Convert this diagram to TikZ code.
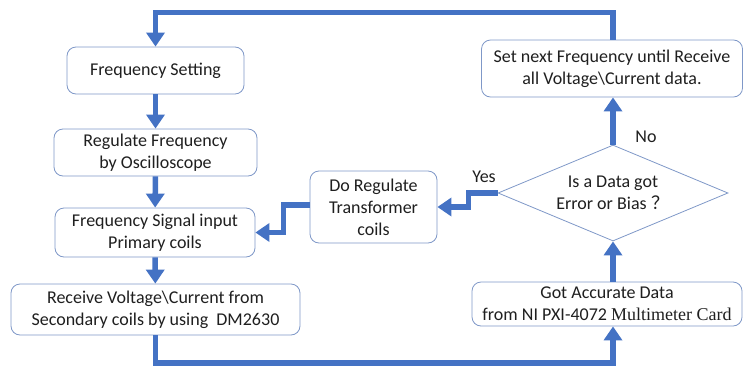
\documentclass[tikz,border=0pt]{standalone}
\usepackage{fontspec}
\setmainfont{Carlito}
\newfontfamily\timesfont{Liberation Serif}
\newfontfamily\cjk{Noto Sans CJK SC}
\usetikzlibrary{shapes.geometric,arrows.meta}
\definecolor{flowblue}{HTML}{4472C4}
\definecolor{edgeblue}{HTML}{7F98C8}
\definecolor{inktext}{HTML}{1F1F1F}

\begin{document}
\begin{tikzpicture}[x=1pt,y=-1pt,
    stepbox/.style={draw=edgeblue, line width=0.8pt, rounded corners=9pt, fill=white,
      align=center, inner sep=0pt, text=inktext, font=\fontsize{18}{22}\selectfont},
    flow/.style={draw=flowblue, line width=5.5pt, -{Triangle[width=18pt,length=14pt]}},
    flowlabel/.style={text=inktext, font=\fontsize{18}{22}\selectfont}]
  \useasboundingbox (0,0) rectangle (743,367);
  % Left column
  \node[stepbox, minimum width=177pt, minimum height=47pt] (fset) at (155.5,70.5) {Frequency Setting};
  \node[stepbox, minimum width=203pt, minimum height=47pt] (regf) at (155.5,152.5) {Regulate Frequency\\by Oscilloscope};
  \node[stepbox, minimum width=200pt, minimum height=49pt] (fsig) at (155,232.5) {Frequency Signal input\\Primary coils};
  \node[stepbox, minimum width=289pt, minimum height=51pt] (recv) at (155.5,309.5) {Receive Voltage\textbackslash Current from\\Secondary coils by using\ \ DM2630};
  % Middle
  \node[stepbox, minimum width=127pt, minimum height=72pt] (doreg) at (373.5,207) {Do Regulate\\Transformer\\coils};
  % Right column
  \node[stepbox, minimum width=261pt, minimum height=57pt] (setn) at (612,68.5) {Set next Frequency until Receive\\all Voltage\textbackslash Current data.};
  \node[diamond, draw=edgeblue, line width=0.8pt, fill=white, aspect=2.4, inner sep=0pt,
    minimum width=230pt, minimum height=96pt, align=center, text=inktext,
    font=\fontsize{18}{22}\selectfont] (dec) at (613,193) {Is a Data got\\Error or Bias\kern5pt{\cjk ？}};
  \node[stepbox, minimum width=270pt, minimum height=44pt] (acc) at (607,304) {Got Accurate Data\\from NI PXI-4072 {\timesfont Multimeter Card}};
  % Loop rails
  \coordinate (toprail) at (0,12.5);
  \coordinate (lowrail) at (0,363);
  % Connectors
  \draw[flow] (fset) -- (regf);
  \draw[flow] (regf) -- (fsig);
  \draw[flow] (fsig) -- (recv);
  \draw[flow] (recv.south) |- (lowrail -| dec.south) -- (acc.south -| dec.south);
  \draw[flow] (acc.north -| dec.south) -- (dec.south);
  \draw[flow] (dec.north) -- (setn.south -| dec.north);
  \draw[flow] (setn.north -| dec.north) |- (toprail -| fset.north) -- (fset.north);
  \draw[flow] (dec.west) -- ++(-29,0) |- (doreg.east);
  \draw[flow] (doreg.west |- 0,205) -- ++(-26,0) |- (fsig.east);
  % Branch labels
  \node[flowlabel] (yeslbl) at (484,177) {Yes};
  \node[flowlabel] (nolbl) at (646,137) {No};
\end{tikzpicture}
\end{document}
